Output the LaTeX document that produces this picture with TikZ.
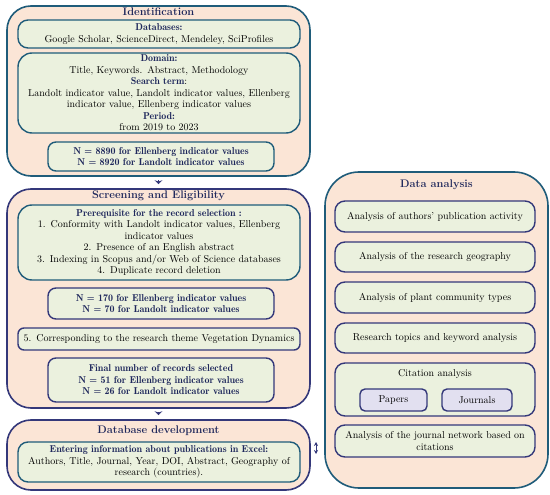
\documentclass[tikz,border=0pt]{standalone}
\usetikzlibrary{positioning,arrows.meta}
\definecolor{peach}{RGB}{251,229,214}
\definecolor{sage}{RGB}{235,241,222}
\definecolor{lilac}{RGB}{226,224,240}
\definecolor{tealline}{RGB}{31,92,122}
\definecolor{navyline}{RGB}{52,56,122}
\definecolor{headtext}{RGB}{31,40,92}
\newcommand{\fs}{\fontsize{10}{11.5}\selectfont}
\newcommand{\demi}{\fontseries{b}\selectfont}
\newcommand{\hd}[1]{{\demi\color{headtext}#1}}
\tikzset{x=1pt, y=-1pt, % work in pixels of the page, y going down
stage/.style={draw=tealline, line width=1.6pt, fill=peach, rounded corners=24pt}, % big outer panels
item/.style={draw=tealline, line width=1.4pt, fill=sage, rounded corners=10pt, align=center, font=\fs, inner sep=1pt}, % boxes inside a panel
count/.style={item, rounded corners=8pt, font=\fs\demi\color{headtext}}, % the N = ... boxes
tag/.style={item, draw=navyline, fill=lilac, rounded corners=5pt}, % small boxes of the citation box
title/.style={font=\fontsize{11}{13}\selectfont\bfseries, text=headtext, inner sep=1pt}, % panel headings
flow/.style={-{Stealth[length=4pt,width=8pt]}, draw=navyline, line width=1.2pt, shorten <=3pt, shorten >=4pt}, % links between panels
}
\begin{document}
\begin{tikzpicture}
\useasboundingbox (0,0) rectangle (550,495);
% left column
\node[stage, minimum width=303pt, minimum height=170pt] (ident) at (158.5,91) {};
\node[title, below=1pt of ident.north] (identT) {Identification};
\node[item, minimum width=282pt, minimum height=28pt, text width=276pt] (base) at (159,34)
  {\hd{Databases:}\\ Google Scholar, ScienceDirect, Mendeley, SciProfiles};
\node[item, rounded corners=14pt, minimum width=282pt, minimum height=80pt, text width=276pt] (domain) at (159,93)
  {\hd{Domain:}\\ Title, Keywords. Abstract, Methodology\\ \hd{Search term}:\\
   Landolt indicator value, Landolt indicator values, Ellenberg\\ indicator value, Ellenberg indicator values\\
   \hd{Period:}\\ from 2019 to 2023};
\node[count, minimum width=226pt, minimum height=29pt, text width=218pt] (n1) at (161,156.5)
  {N = 8890 for Ellenberg indicator values\\ N = 8920 for Landolt indicator values};

\node[stage, draw=navyline, minimum width=303pt, minimum height=219pt] (screen) at (158.5,298.5) {};
\node[title, below=1pt of screen.north] (screenT) {Screening and Eligibility};
\node[item, rounded corners=14pt, minimum width=282pt, minimum height=75pt, text width=276pt] (prereq) at (159,242.5)
  {\hd{Prerequisite for the record selection :}\\
   1.\enspace Conformity with Landolt indicator values, Ellenberg\\ indicator values\\
   2.\enspace Presence of an English abstract\\
   3.\enspace Indexing in Scopus and/or Web of Science databases\\
   4.\enspace Duplicate record deletion};
\node[count, draw=navyline, minimum width=226pt, minimum height=31pt, text width=218pt] (n2) at (161,303.5)
  {N = 170 for Ellenberg indicator values\\ N = 70 for Landolt indicator values};
\node[item, draw=navyline, rounded corners=6pt, minimum width=282pt, minimum height=22pt, text width=276pt] (theme) at (159,339)
  {5. Corresponding to the research theme Vegetation Dynamics};
\node[count, draw=navyline, minimum width=226pt, minimum height=44pt, text width=218pt] (final) at (161,380)
  {Final number of records selected\\ N = 51 for Ellenberg indicator values\\ N = 26 for Landolt indicator values};

\node[stage, draw=navyline, minimum width=303pt, minimum height=70pt] (dbase) at (158.5,455) {};
\node[title, below=5pt of dbase.north] (dbaseT) {Database development};
\node[item, minimum width=282pt, minimum height=40pt, text width=276pt] (excel) at (159,462)
  {\hd{Entering information about publications in Excel:}\\
   Authors, Title, Journal, Year, DOI, Abstract, Geography of\\ research (countries).};

% right column
\node[stage, rounded corners=34pt, minimum width=223pt, minimum height=316pt] (data) at (436.5,330) {};
\node[title, below=7pt of data.north] (dataT) {Data analysis};
\node[item, draw=navyline, minimum width=200pt, minimum height=31pt] (a1) at (435,216.5) {Analysis of authors' publication activity};
\node[item, draw=navyline, minimum width=200pt, minimum height=30pt] (a2) at (435,257) {Analysis of the research geography};
\node[item, draw=navyline, minimum width=200pt, minimum height=31pt] (a3) at (435,297.5) {Analysis of plant community types};
\node[item, draw=navyline, minimum width=200pt, minimum height=30pt] (a4) at (435,338) {Research topics and keyword analysis};
\node[item, draw=navyline, minimum width=200pt, minimum height=53pt] (cite) at (435,389.5) {};
\node[font=\fs, below=4pt of cite.north] (citeT) {Citation analysis};
\node[tag, minimum width=67pt, minimum height=22pt] (papers) at (393.5,400) {Papers};
\node[tag, minimum width=70pt, minimum height=22pt] (journals) at (477,400) {Journals};
\node[item, draw=navyline, minimum width=200pt, minimum height=32pt, text width=194pt] (net) at (435,441)
  {Analysis of the journal network based on\\ citations};

% links
\draw[flow] (ident) -- (screen);
\draw[flow] (screen) -- (dbase);
\coordinate (up) at (316,442);
\coordinate (down) at (316,454);
\draw[{Stealth[length=4pt,width=4pt]}-{Stealth[length=4pt,width=4pt]}, draw=navyline, line width=1pt] (up) -- (down);
\end{tikzpicture}
\end{document}
